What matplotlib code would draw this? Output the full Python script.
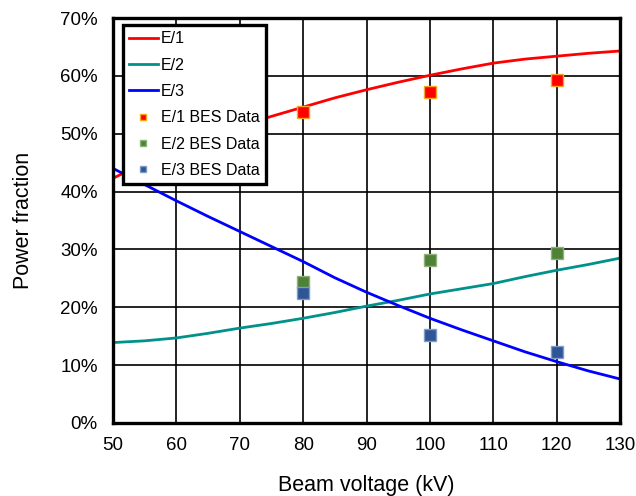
import numpy as np
import matplotlib.pyplot as plt
from matplotlib.ticker import FuncFormatter

plt.rcParams['font.family'] = ['Liberation Sans', 'DejaVu Sans']

# model curves (percent)
kv = [50, 55, 60, 65, 70, 75, 80, 85, 90, 95, 100, 105, 110, 115, 120, 125, 130]
e1 = [42.3, 45.0, 47.3, 49.4, 51.3, 53.0, 54.6, 56.2, 57.6, 58.9, 60.1, 61.2, 62.2, 62.9, 63.4, 63.9, 64.3]
e2 = [13.9, 14.2, 14.7, 15.5, 16.4, 17.2, 18.1, 19.1, 20.2, 21.2, 22.3, 23.2, 24.1, 25.3, 26.4, 27.4, 28.5]
e3 = [44.0, 41.2, 38.4, 35.7, 33.1, 30.5, 27.9, 25.1, 22.6, 20.3, 18.1, 16.1, 14.2, 12.3, 10.6, 9.0, 7.6]

# BES measurements (percent)
bes_kv = [80, 100, 120]
bes_e1 = [53.8, 57.2, 59.3]
bes_e2 = [24.4, 28.2, 29.4]
bes_e3 = [22.4, 15.2, 12.2]

fig = plt.figure(figsize=(6.36, 4.96), dpi=100)
ax = fig.add_axes([0.1777, 0.1472, 0.7973, 0.8165])

ax.plot(kv, e1, color='#ff0000', lw=2, label='E/1')
ax.plot(kv, e2, color='#00918a', lw=2, label='E/2')
ax.plot(kv, e3, color='#0000ff', lw=2, label='E/3')
ax.plot(bes_kv, bes_e1, 's', ms=9, color='#ff0000', mec='#f5a623', mew=1, label='E/1 BES Data')
ax.plot(bes_kv, bes_e2, 's', ms=9, color='#4f8236', mec='#8fb27a', mew=1, label='E/2 BES Data')
ax.plot(bes_kv, bes_e3, 's', ms=9, color='#2f5597', mec='#7f9cc8', mew=1, label='E/3 BES Data')

ax.set_xlim(50, 130)
ax.set_ylim(0, 70)
ax.set_xticks(range(50, 131, 10))
ax.set_yticks(range(0, 71, 10))
ax.yaxis.set_major_formatter(FuncFormatter(lambda v, p: f'{v:.0f}%'))
ax.grid(True, color='black', lw=1.2)
ax.set_axisbelow(True)
ax.tick_params(length=0, labelsize=13.5)
ax.tick_params(axis='y', pad=11)
ax.tick_params(axis='x', pad=10)
for s in ax.spines.values():
    s.set_linewidth(2.4)

ax.set_xlabel('Beam voltage (kV)', fontsize=15.5, labelpad=15)
ax.set_ylabel('Power fraction', fontsize=15.5, labelpad=19)

leg = ax.legend(loc='upper left', bbox_to_anchor=(0.019, 0.983), borderaxespad=0,
                fontsize=11.5, fancybox=False, framealpha=1, edgecolor='black',
                handlelength=1.8, handletextpad=0.2, labelspacing=0.71, borderpad=0.4,
                markerscale=0.55)
leg.get_frame().set_linewidth(2.4)

fig.savefig('out.png', dpi=100)
